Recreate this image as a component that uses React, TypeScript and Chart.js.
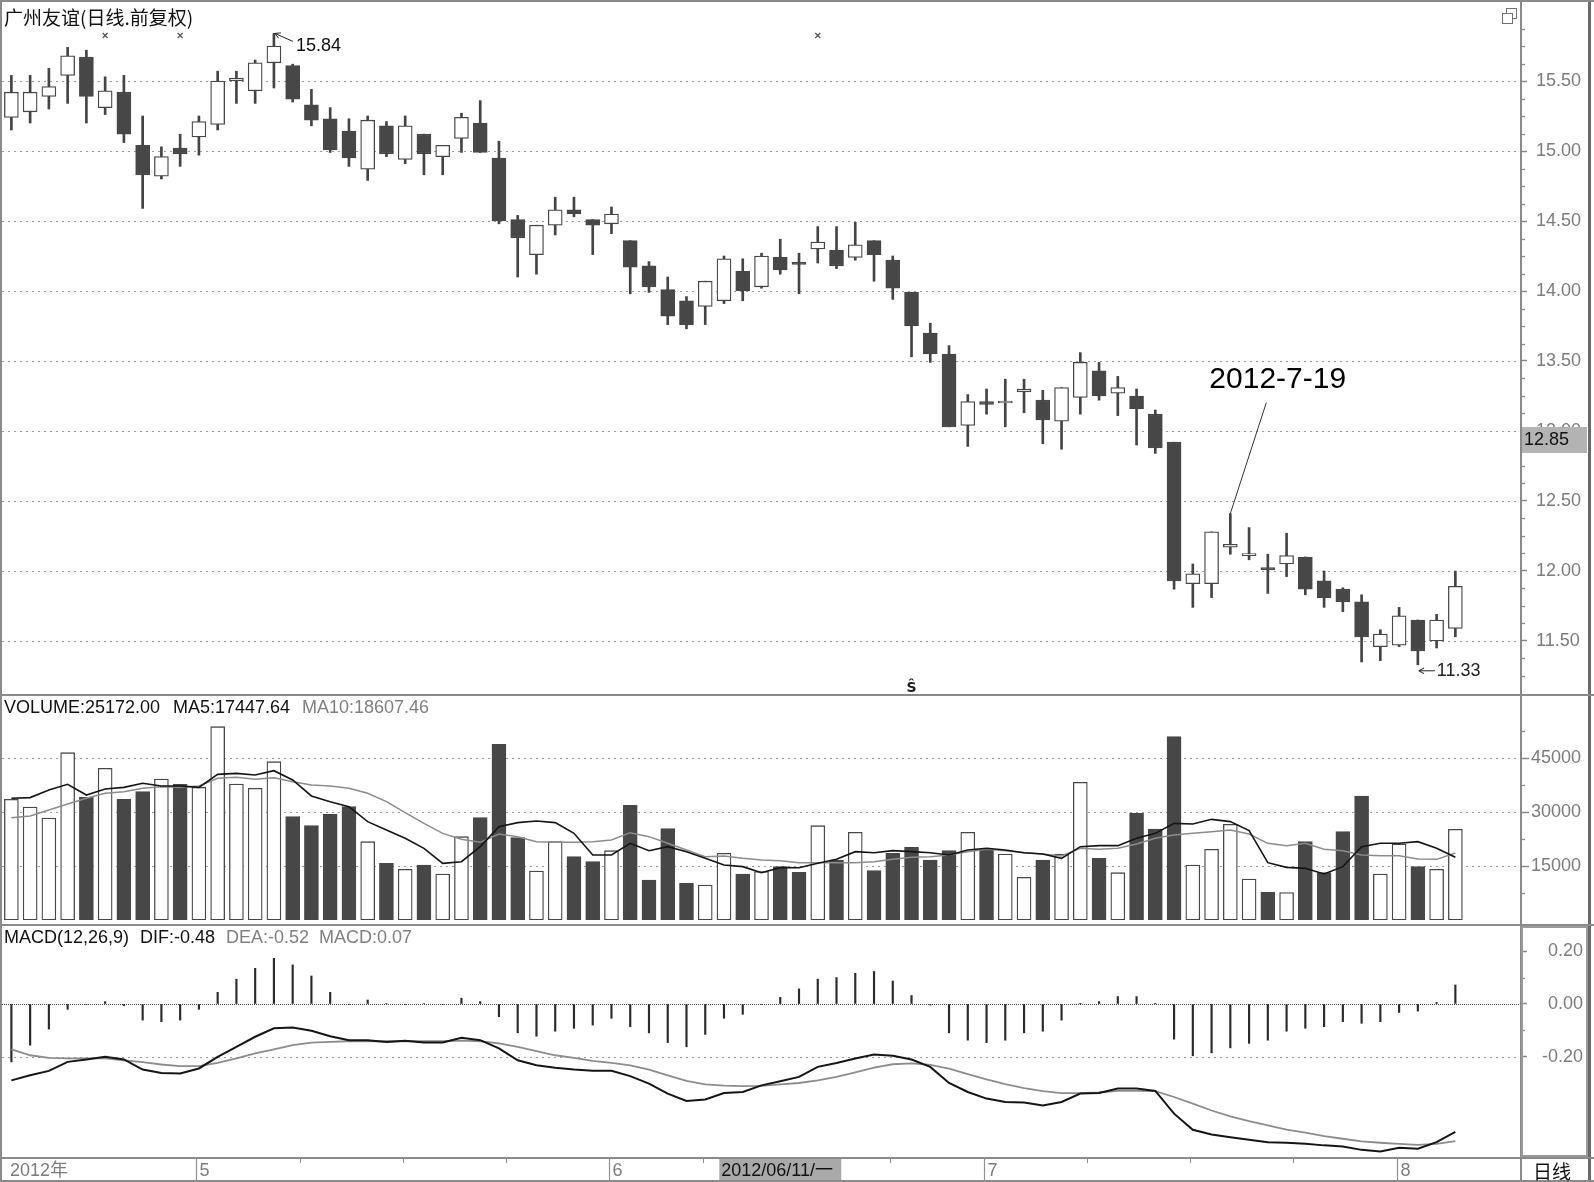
import React, { useEffect, useRef } from 'react';
import { Chart, registerables } from 'chart.js';

Chart.register(...registerables);

// ---------------- data ----------------
const dates: string[] = [
  '2012-04-16','2012-04-17','2012-04-18','2012-04-19','2012-04-20','2012-04-23','2012-04-24','2012-04-25','2012-04-26','2012-04-27',
  '2012-05-02','2012-05-03','2012-05-04','2012-05-07','2012-05-08','2012-05-09','2012-05-10','2012-05-11','2012-05-14','2012-05-15','2012-05-16',
  '2012-05-17','2012-05-18','2012-05-21','2012-05-22','2012-05-23','2012-05-24','2012-05-25','2012-05-28','2012-05-29','2012-05-30','2012-05-31',
  '2012-06-01','2012-06-04','2012-06-05','2012-06-06','2012-06-07','2012-06-08','2012-06-11','2012-06-12','2012-06-13','2012-06-14',
  '2012-06-15','2012-06-18','2012-06-19','2012-06-20','2012-06-21','2012-06-25','2012-06-26','2012-06-27','2012-06-28','2012-06-29',
  '2012-07-02','2012-07-03','2012-07-04','2012-07-05','2012-07-06','2012-07-09','2012-07-10','2012-07-11','2012-07-12','2012-07-13','2012-07-16',
  '2012-07-17','2012-07-18','2012-07-19','2012-07-20','2012-07-23','2012-07-24','2012-07-25','2012-07-26','2012-07-27','2012-07-30','2012-07-31',
  '2012-08-01','2012-08-02','2012-08-03','2012-08-06',
];

const opens = [15.24,15.28,15.39,15.54,15.67,15.31,15.42,15.04,14.82,15.02, 15.10,15.19,15.50,15.43,15.63,15.61,15.33,15.23,15.14,14.87,
  15.18,14.94,15.12,14.96,15.09,15.20,14.95,14.51,14.26,14.47, 14.58,14.51,14.48,14.36,14.18,14.01,13.93,13.89,13.93,14.14,
  14.03,14.24,14.20,14.30,14.29,14.24,14.36,14.22,13.99,13.70, 13.55,13.04,13.21,13.20,13.28,13.22,13.07,13.24,13.43,13.27,
  13.25,13.12,12.92,11.91,11.91,12.17,12.11,12.02,12.05,12.10, 11.93,11.87,11.78,11.46,11.47,11.65,11.50,11.59];
const highs = [15.54,15.54,15.59,15.74,15.72,15.53,15.54,15.25,15.03,15.12, 15.25,15.57,15.57,15.65,15.84,15.62,15.44,15.31,15.23,15.25,
  15.21,15.25,15.12,15.04,15.27,15.36,15.07,14.54,14.47,14.67, 14.67,14.51,14.60,14.36,14.21,14.10,13.96,14.07,14.25,14.23,
  14.27,14.37,14.27,14.46,14.46,14.49,14.36,14.25,13.99,13.77, 13.61,13.26,13.30,13.37,13.37,13.29,13.31,13.56,13.49,13.39,
  13.30,13.15,12.92,12.05,12.28,12.41,12.31,12.12,12.27,12.10, 12.00,11.88,11.83,11.58,11.74,11.65,11.69,12.00];
const lows = [15.15,15.20,15.30,15.34,15.20,15.26,15.06,14.59,14.80,14.89, 14.97,15.15,15.34,15.34,15.45,15.35,15.18,14.99,14.89,14.79,
  14.96,14.91,14.83,14.83,14.99,14.99,14.48,14.10,14.12,14.40, 14.53,14.26,14.41,13.98,13.99,13.76,13.73,13.76,13.91,13.93,
  14.02,14.12,13.98,14.20,14.16,14.22,14.07,13.94,13.53,13.49, 13.03,12.89,13.12,13.03,13.13,12.91,12.87,13.12,13.22,13.11,
  12.90,12.84,11.87,11.74,11.81,12.12,12.08,11.84,11.96,11.83, 11.74,11.71,11.35,11.36,11.46,11.33,11.45,11.53];
const closes = [15.42,15.42,15.46,15.68,15.39,15.43,15.12,14.83,14.96,14.98, 15.21,15.50,15.52,15.63,15.75,15.37,15.22,15.01,14.95,15.22,
  14.98,15.18,14.98,15.04,15.24,14.99,14.50,14.38,14.47,14.58, 14.55,14.47,14.55,14.17,14.03,13.82,13.76,14.07,14.23,14.00,
  14.25,14.15,14.19,14.35,14.18,14.33,14.26,14.02,13.75,13.55, 13.03,13.21,13.19,13.20,13.30,13.08,13.31,13.49,13.25,13.31,
  13.16,12.88,11.93,11.98,12.28,12.19,12.11,12.01,12.11,11.87, 11.81,11.78,11.53,11.55,11.68,11.43,11.65,11.89];

const volumes = [33530,31390,28340,46480,34080,42130,33530,35650,39170,37690, 36850,53700,37780,36570,43980,28700,26200,29350,31480,21760,
  15740,14070,15280,12780,23150,28430,48800,22870,13610,21760, 17600,16200,19260,31850,11110,25370,10180,9720,18520,12780,
  13430,14820,13240,26200,16670,24350,13700,18520,20190,16670, 19260,24350,19630,18330,11850,16670,18330,38240,17130,13150,
  29630,25280,50930,15280,19630,26570,11390,7690,7600,21760, 13150,24540,34450,12780,21110,14820,14070,25172];
const ma5 = [33800,34000,36100,37700,34720,36390,36850,37970,37220,37220, 36850,40460,40740,40280,41480,38890,34450,32870,31480,27320,
  25000,22690,19910,15740,16200,20370,25930,27040,27500,27040, 24070,18060,18060,21300,19260,20370,18980,17130,15280,14820,
  13150,14540,14500,15740,16850,18980,18700,19260,18980,18700, 18060,19450,19910,19450,18700,18330,17130,20370,20650,20650,
  22690,24070,26850,26670,27960,27320,24820,15930,14630,14350, 12780,14820,20370,21300,21300,21760,19910,17447.64];
const ma10 = [28430,28890,30560,32220,33800,35190,35650,36570,37040,36850, 37220,39360,39630,39080,39540,38430,37500,37220,36570,35190,
  32870,29820,26850,24070,22410,21570,23890,23150,21760,21570, 21570,21760,22220,24260,23150,21300,19450,17600,17780,17130,
  16670,16480,15930,15930,15930,15930,16200,16850,17410,17600, 18060,18980,19630,19260,18700,18330,17780,19910,19630,19910,
  21110,22690,23610,24070,24540,25000,23890,21300,20650,21300, 19630,19260,18060,17870,17870,16950,16850,18607.46];

const dif = [-0.289,-0.270,-0.253,-0.219,-0.210,-0.200,-0.210,-0.248,-0.261,-0.263, -0.244,-0.200,-0.162,-0.124,-0.092,-0.089,-0.101,-0.122,-0.137,-0.137,
  -0.144,-0.139,-0.146,-0.146,-0.128,-0.137,-0.168,-0.213,-0.232,-0.241, -0.248,-0.253,-0.253,-0.273,-0.301,-0.339,-0.367,-0.361,-0.337,-0.333,
  -0.308,-0.292,-0.276,-0.238,-0.223,-0.206,-0.191,-0.196,-0.210,-0.238, -0.299,-0.333,-0.358,-0.371,-0.373,-0.384,-0.371,-0.339,-0.337,-0.320,
  -0.320,-0.329,-0.415,-0.476,-0.494,-0.504,-0.514,-0.523,-0.525,-0.529, -0.535,-0.539,-0.552,-0.558,-0.544,-0.548,-0.523,-0.484];
const dea = [-0.172,-0.194,-0.204,-0.206,-0.206,-0.206,-0.213,-0.220,-0.229,-0.235, -0.235,-0.223,-0.206,-0.187,-0.172,-0.156,-0.146,-0.143,-0.141,-0.141,
  -0.141,-0.141,-0.141,-0.141,-0.139,-0.141,-0.149,-0.162,-0.178,-0.194, -0.204,-0.215,-0.223,-0.232,-0.248,-0.270,-0.291,-0.304,-0.309,-0.311,
  -0.310,-0.304,-0.299,-0.289,-0.276,-0.259,-0.241,-0.228,-0.225,-0.230, -0.245,-0.265,-0.285,-0.303,-0.318,-0.330,-0.337,-0.337,-0.335,-0.329,
  -0.329,-0.330,-0.352,-0.377,-0.403,-0.425,-0.443,-0.459,-0.475,-0.487, -0.500,-0.510,-0.520,-0.525,-0.529,-0.533,-0.529,-0.519];
const macdHist = [-0.219,-0.156,-0.095,-0.020,-0.002,0.009,-0.006,-0.061,-0.067,-0.061, -0.020,0.044,0.094,0.135,0.173,0.148,0.106,0.044,-0.002,0.015,
  0.002,-0.002,0.002,-0.002,0.022,0.009,-0.048,-0.109,-0.122,-0.103, -0.092,-0.080,-0.054,-0.086,-0.109,-0.146,-0.162,-0.115,-0.054,-0.039,
  -0.002,0.025,0.057,0.094,0.100,0.116,0.123,0.087,0.032,-0.004, -0.109,-0.137,-0.146,-0.137,-0.109,-0.103,-0.061,0.001,0.009,0.028,
  0.028,0.001,-0.133,-0.196,-0.185,-0.166,-0.149,-0.137,-0.103,-0.092, -0.086,-0.067,-0.073,-0.067,-0.032,-0.027,0.006,0.072];

const priceTicks = [11.5, 12, 12.5, 13, 13.5, 14, 14.5, 15, 15.5];
const volTicks = [15000, 30000, 45000];
const macdTicks = [0.2, 0, -0.2];

const eventIdx = [5, 9, 43];
const highIdx = 14;
const lowIdx = 75;
const noteIdx = 65;
const noteText = '2012-7-19';
const sIdx = 48;
const cursorIdx = 38;
const cursorLabel = '2012/06/11/一';
const cursorPrice = '12.85';
const titleText = '广州友谊(日线.前复权)';

// ---------------- style ----------------
const W = 1594;
const AXIS_W = 73;
const SLOTS = 81;
const FONT = "'Liberation Sans', Arial, Helvetica, 'Noto Sans CJK SC', sans-serif";
const CJK = "'Noto Sans CJK SC', 'Noto Sans', sans-serif";
const DARK = '#474747';
const AXIS = '#8a8a8a';
const LABEL = '#7c7c7c';
const GRID = '#9c9c9c';

const slotLabels = Array.from({ length: SLOTS }, (_, i) => dates[i] ?? '');
const isUp = closes.map((c, i) => c >= opens[i]);

// ---------------- helpers ----------------
function txt(ctx: any, s: string, x: number, y: number, font: string, color: string, align = 'left', base = 'middle') {
  ctx.save();
  ctx.font = font;
  ctx.fillStyle = color;
  ctx.textAlign = align;
  ctx.textBaseline = base;
  ctx.fillText(s, x, y);
  ctx.restore();
}
function seg(ctx: any, x1: number, y1: number, x2: number, y2: number, color: string, w = 1, dash: number[] = []) {
  ctx.save();
  ctx.strokeStyle = color;
  ctx.lineWidth = w;
  ctx.setLineDash(dash);
  ctx.beginPath();
  ctx.moveTo(x1, y1);
  ctx.lineTo(x2, y2);
  ctx.stroke();
  ctx.restore();
}
function hdot(ctx: any, x1: number, x2: number, y: number, color: string, dash: number[]) {
  const yy = Math.round(y) + 0.5;
  seg(ctx, x1, yy, x2, yy, color, 1, dash);
}
function arrow(ctx: any, fx: number, fy: number, tx: number, ty: number, color: string) {
  seg(ctx, fx, fy, tx, ty, color, 1);
  const a = Math.atan2(ty - fy, tx - fx);
  const L = 6;
  seg(ctx, tx, ty, tx - L * Math.cos(a - 0.5), ty - L * Math.sin(a - 0.5), color, 1);
  seg(ctx, tx, ty, tx - L * Math.cos(a + 0.5), ty - L * Math.sin(a + 0.5), color, 1);
}
function frame(ctx: any, h: number) {
  ctx.save();
  ctx.fillStyle = AXIS;
  ctx.fillRect(0, 0, 2, h);
  ctx.fillRect(1520, 0, 2, h);
  ctx.fillStyle = '#6a6a6a';
  ctx.fillRect(1588, 0, 3, h);
  ctx.restore();
}
function minorTicks(ctx: any, y: any, vals: number[]) {
  vals.forEach((v) => {
    const py = Math.round(y.getPixelForValue(v)) + 0.5;
    seg(ctx, 1521, py, 1525, py, AXIS, 1.3);
  });
}

function xScale() {
  return { type: 'category', labels: slotLabels, offset: true, display: false, grid: { display: false } };
}
function yScale(min: number, max: number, ticks: number[], fmt: (v: number) => string, o: any = {}) {
  const width = o.width ?? AXIS_W;
  return {
    type: 'linear',
    position: 'right',
    min,
    max,
    afterBuildTicks: (s: any) => { s.ticks = ticks.map((v) => ({ value: v })); },
    afterFit: (s: any) => { s.width = width; s.paddingTop = 0; s.paddingBottom = 0; s.paddingLeft = 0; s.paddingRight = 0; },
    ticks: {
      autoSkip: false,
      color: LABEL,
      font: { family: FONT, size: 18 },
      padding: o.padding ?? 9,
      crossAlign: o.crossAlign ?? 'near',
      callback: (v: any) => fmt(Number(v)),
    },
    grid: { display: true, drawOnChartArea: false, drawTicks: true, tickLength: o.tickLength ?? 6, tickColor: AXIS, tickWidth: 1.5 },
    border: { display: true, color: AXIS, width: 2 },
  };
}
const common = {
  animation: false,
  responsive: false,
  devicePixelRatio: 1,
  events: [],
  plugins: { legend: { display: false }, tooltip: { enabled: false } },
};

// ---------------- plugins ----------------
const pricePlugin = {
  id: 'priceDecor',
  beforeDatasetsDraw(chart: any) {
    const { ctx, chartArea: a, scales: { y } } = chart;
    priceTicks.forEach((v) => hdot(ctx, a.left, a.right, y.getPixelForValue(v), GRID, [2, 4]));
  },
  afterDraw(chart: any) {
    const { ctx, scales: { x, y } } = chart;
    frame(ctx, chart.height);
    ctx.save();
    ctx.fillStyle = AXIS;
    ctx.fillRect(0, 0, W, 2);
    ctx.restore();
    const mins: number[] = [];
    for (let v = 11.25; v < 16.05; v += 0.125) if (Math.abs(v * 2 - Math.round(v * 2)) > 1e-6) mins.push(v);
    minorTicks(ctx, y, mins);
    txt(ctx, titleText, 4, 18, `19px ${CJK}`, '#111');
    ctx.save();
    ctx.strokeStyle = '#707070';
    ctx.lineWidth = 1;
    ctx.strokeRect(1506.5, 8.5, 10, 10);
    ctx.fillStyle = '#fff';
    ctx.fillRect(1502, 13, 11, 11);
    ctx.strokeRect(1502.5, 13.5, 10, 10);
    ctx.restore();
    eventIdx.forEach((i) => {
      const px = x.getPixelForValue(i);
      seg(ctx, px - 2.5, 33, px + 2.5, 38, '#555', 1.2);
      seg(ctx, px - 2.5, 38, px + 2.5, 33, '#555', 1.2);
    });
    const hx = x.getPixelForValue(highIdx);
    const hy = y.getPixelForValue(highs[highIdx]);
    arrow(ctx, hx + 19, hy + 8, hx + 1, hy, '#222');
    txt(ctx, highs[highIdx].toFixed(2), hx + 22, hy + 13, `18px ${FONT}`, '#111');
    const lx = x.getPixelForValue(lowIdx);
    const ly = y.getPixelForValue(lows[lowIdx]) + 6;
    arrow(ctx, lx + 17, ly, lx + 1, ly, '#222');
    txt(ctx, lows[lowIdx].toFixed(2), lx + 19, ly, `18px ${FONT}`, '#222');
    txt(ctx, 'Ŝ', x.getPixelForValue(sIdx), 692, `bold 14px 'DejaVu Sans', sans-serif`, '#222', 'center', 'alphabetic');
    const nx = x.getPixelForValue(noteIdx);
    const ny = y.getPixelForValue(highs[noteIdx]);
    seg(ctx, nx + 36, ny - 111, nx, ny, '#333', 1);
    txt(ctx, noteText, nx - 21, 388, `30px ${FONT}`, '#000', 'left', 'alphabetic');
    ctx.save();
    ctx.fillStyle = '#b3b3b3';
    ctx.fillRect(1522, 427, 65, 26);
    ctx.restore();
    txt(ctx, cursorPrice, 1524, 440, `18px ${FONT}`, '#111');
  },
};

const volPlugin = {
  id: 'volDecor',
  beforeDatasetsDraw(chart: any) {
    const { ctx, chartArea: a, scales: { y } } = chart;
    volTicks.forEach((v) => hdot(ctx, a.left, a.right, y.getPixelForValue(v), GRID, [2, 4]));
  },
  afterDraw(chart: any) {
    const { ctx, scales: { y } } = chart;
    frame(ctx, chart.height);
    ctx.save();
    ctx.fillStyle = AXIS;
    ctx.fillRect(0, 0, W, 2);
    ctx.restore();
    minorTicks(ctx, y, [7500, 22500, 37500, 52500]);
    const n = volumes.length - 1;
    const f = `18px ${FONT}`;
    txt(ctx, `VOLUME:${volumes[n].toFixed(2)}`, 4, 14, f, '#111');
    txt(ctx, `MA5:${ma5[n].toFixed(2)}`, 173, 14, f, '#111');
    txt(ctx, `MA10:${ma10[n].toFixed(2)}`, 302, 14, f, '#808080');
  },
};

const macdPlugin = {
  id: 'macdDecor',
  beforeDatasetsDraw(chart: any) {
    const { ctx, chartArea: a, scales: { y } } = chart;
    hdot(ctx, a.left, a.right, y.getPixelForValue(-0.2), GRID, [2, 4]);
    hdot(ctx, a.left, a.right, y.getPixelForValue(0), '#444', [1, 1]);
  },
  afterDraw(chart: any) {
    const { ctx, chartArea: a, scales: { x, y } } = chart;
    const h = chart.height;
    frame(ctx, h);
    ctx.save();
    ctx.fillStyle = AXIS;
    ctx.fillRect(0, 0, W, 2);
    ctx.fillRect(0, a.bottom, W, 2);
    ctx.fillRect(0, h - 2, W, 2);
    ctx.restore();
    minorTicks(ctx, y, [0.1, -0.1]);
    ctx.save();
    ctx.strokeStyle = '#9a9a9a';
    ctx.lineWidth = 2;
    ctx.strokeRect(1522, 3, 65, 229);
    ctx.restore();
    const n = dif.length - 1;
    const f = `18px ${FONT}`;
    txt(ctx, 'MACD(12,26,9)', 4, 14, f, '#111');
    txt(ctx, `DIF:${dif[n].toFixed(2)}`, 140, 14, f, '#111');
    txt(ctx, `DEA:${dea[n].toFixed(2)}`, 226, 14, f, '#808080');
    txt(ctx, `MACD:${macdHist[n].toFixed(2)}`, 319, 14, f, '#808080');
    const rowY = a.bottom + 14;
    txt(ctx, `${dates[0].slice(0, 4)}年`, 10, rowY, f, LABEL);
    const starts: number[] = [];
    for (let i = 1; i < dates.length; i++) if (dates[i].slice(5, 7) !== dates[i - 1].slice(5, 7)) starts.push(i);
    starts.forEach((i) => {
      const px = Math.round(x.getPixelForValue(i) - 2.5) + 0.5;
      seg(ctx, px, a.bottom + 2, px, h - 2, '#909090', 1.2);
      txt(ctx, String(Number(dates[i].slice(5, 7))), px + 3, rowY, f, LABEL);
    });
    for (let k = 0; k < starts.length - 1; k++) {
      const s0 = starts[k];
      const s1 = starts[k + 1];
      for (let q = 1; q < 4; q++) {
        const px = Math.round(x.getPixelForValue(s0 + ((s1 - s0) * q) / 4) - 2.5) + 0.5;
        seg(ctx, px, a.bottom + 2, px, a.bottom + 6, '#909090', 1);
      }
    }
    const cx = x.getPixelForValue(cursorIdx) - 4.7;
    ctx.save();
    ctx.fillStyle = '#a9a9a9';
    ctx.fillRect(cx, a.bottom + 2, 122, h - a.bottom - 4);
    ctx.restore();
    txt(ctx, cursorLabel, cx + 2, rowY, f, '#111');
    ctx.save();
    ctx.fillStyle = AXIS;
    ctx.fillRect(1520, a.bottom, 2, h - a.bottom);
    ctx.restore();
    txt(ctx, '日线', 1533, rowY + 1, `19px ${CJK}`, '#111');
  },
};

// ---------------- configs ----------------
function priceConfig(): any {
  const bodies = opens.map((o, i) => [Math.min(o, closes[i]), Math.max(o, closes[i])]);
  const wicks = lows.map((l, i) => [l, highs[i]]);
  return {
    type: 'bar',
    data: {
      labels: slotLabels,
      datasets: [
        {
          label: 'body', data: bodies, order: 0, grouped: false,
          backgroundColor: isUp.map((u) => (u ? '#ffffff' : DARK)), borderColor: DARK,
          borderWidth: 1.3, borderSkipped: false, barThickness: 14, minBarLength: 2,
        },
        { label: 'wick', data: wicks, order: 1, grouped: false, backgroundColor: '#444444', borderWidth: 0, barThickness: 2 },
      ],
    },
    options: {
      ...common,
      layout: { padding: { left: 2, top: 0, right: 0, bottom: 0 } },
      scales: { x: xScale(), y: yScale(11.1214, 16.0786, priceTicks, (v) => v.toFixed(2)) },
    },
    plugins: [pricePlugin],
  };
}
function volConfig(): any {
  return {
    type: 'bar',
    data: {
      labels: slotLabels,
      datasets: [
        { type: 'line', label: 'MA5', data: ma5, order: 0, borderColor: '#151515', borderWidth: 1.6, pointRadius: 0, tension: 0 },
        { type: 'line', label: 'MA10', data: ma10, order: 1, borderColor: '#8c8c8c', borderWidth: 1.5, pointRadius: 0, tension: 0 },
        {
          type: 'bar', label: 'VOLUME', data: volumes, order: 2,
          backgroundColor: isUp.map((u) => (u ? '#ffffff' : DARK)), borderColor: DARK,
          borderWidth: 1.3, borderSkipped: false, barThickness: 14,
        },
      ],
    },
    options: {
      ...common,
      layout: { padding: { left: 2, top: 0, right: 0, bottom: 4 } },
      scales: { x: xScale(), y: yScale(0, 62778, volTicks, (v) => String(v), { tickLength: 8, padding: 2 }) },
    },
    plugins: [volPlugin],
  };
}
function macdConfig(): any {
  return {
    type: 'bar',
    data: {
      labels: slotLabels,
      datasets: [
        { type: 'line', label: 'DIF', data: dif, order: 0, borderColor: '#151515', borderWidth: 2, pointRadius: 0, tension: 0 },
        { type: 'line', label: 'DEA', data: dea, order: 1, borderColor: '#8c8c8c', borderWidth: 1.8, pointRadius: 0, tension: 0 },
        { type: 'bar', label: 'MACD', data: macdHist, order: 2, backgroundColor: '#2a2a2a', borderWidth: 0, barThickness: 1.5 },
      ],
    },
    options: {
      ...common,
      layout: { padding: { left: 2, top: 0, right: 11, bottom: 25 } },
      scales: {
        x: xScale(),
        y: yScale(-0.579, 0.3027, macdTicks, (v) => v.toFixed(2), { crossAlign: 'far', padding: 4, width: 62 }),
      },
    },
    plugins: [macdPlugin],
  };
}

export default function App() {
  const pRef = useRef<HTMLCanvasElement>(null);
  const vRef = useRef<HTMLCanvasElement>(null);
  const mRef = useRef<HTMLCanvasElement>(null);
  useEffect(() => {
    document.body.style.margin = '0';
    const charts = [
      new Chart(pRef.current as HTMLCanvasElement, priceConfig()),
      new Chart(vRef.current as HTMLCanvasElement, volConfig()),
      new Chart(mRef.current as HTMLCanvasElement, macdConfig()),
    ];
    return () => charts.forEach((c) => c.destroy());
  }, []);
  return (
    <div style={{ position: 'relative', width: W, height: 1182, background: '#fff', overflow: 'hidden' }}>
      <canvas ref={pRef} width={W} height={694} style={{ position: 'absolute', left: 0, top: 0 }} />
      <canvas ref={vRef} width={W} height={230} style={{ position: 'absolute', left: 0, top: 694 }} />
      <canvas ref={mRef} width={W} height={258} style={{ position: 'absolute', left: 0, top: 924 }} />
    </div>
  );
}
